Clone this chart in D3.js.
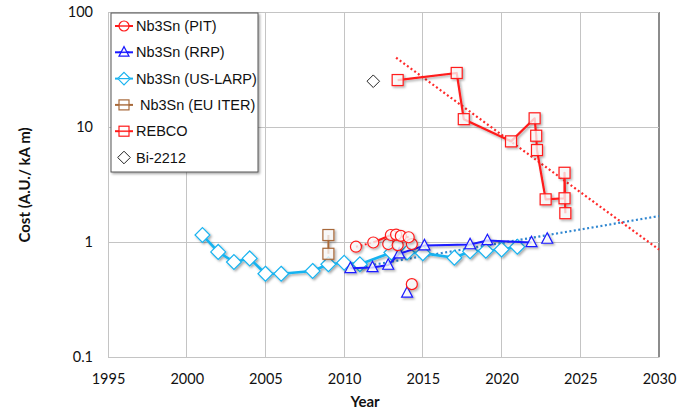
<!DOCTYPE html>
<html>
<head>
<meta charset="utf-8">
<script src="https://cdn.jsdelivr.net/npm/d3@7"></script>
<style>
  html, body { margin: 0; padding: 0; background: #fff; }
  svg { display: block; }
  .tick text { font-family: Lato, "Liberation Sans", sans-serif; font-size: 14.5px; fill: #111; }
  .title { font-family: Lato, "Liberation Sans", sans-serif; font-size: 15px; font-weight: bold; fill: #111; }
  .legend text { font-family: "Liberation Sans", Arial, sans-serif; font-size: 14.5px; fill: #111; }
</style>
</head>
<body>
<svg id="chart" width="678" height="411"></svg>
<script>
// ---- data: [year, cost (A.U./kA m)] ----
const xTicks = [1995, 2000, 2005, 2010, 2015, 2020, 2025, 2030];
const yTicks = [0.1, 1, 10, 100];
const yTickLabels = ["0.1", "1", "10", "100"];

// Nb3Sn (PIT)
const pitLine = [[2011.85, 0.99], [2012.97, 1.15], [2013.3, 1.16], [2013.6, 1.13], [2014.1, 1.10]];
const pitDotted = [[2010.75, 0.91], [2011.85, 0.99]];
const pitExtra = [[2010.75, 0.91], [2012.8, 0.96], [2013.4, 0.94], [2014.3, 0.96], [2014.3, 0.43]];

// Nb3Sn (RRP)
const rrpLine = [[2010.4, 0.59], [2011.8, 0.60], [2012.8, 0.63], [2013.5, 0.79], [2015.1, 0.93],
                 [2018.0, 0.95], [2019.1, 1.03], [2021.9, 0.99]];
const rrpExtra = [[2014.0, 0.36], [2022.9, 1.06]];

// Nb3Sn (US-LARP)
const larp = [[2001, 1.15], [2002, 0.82], [2003, 0.67], [2004, 0.72], [2005, 0.53], [2006, 0.53],
              [2008, 0.56], [2009, 0.64], [2010, 0.66], [2011, 0.64], [2013, 0.81], [2014, 0.81],
              [2015, 0.80], [2017, 0.73], [2018, 0.83], [2019, 0.84], [2020, 0.86], [2021, 0.91]];
const larpTrend = [[2010.5, 0.59], [2030, 1.68]];

// Nb3Sn (EU ITER)
const iter = [[2009, 1.15], [2009, 0.79]];

// REBCO
const rebco = [[2013.4, 25.6], [2017.15, 29.5], [2017.6, 11.7], [2020.6, 7.5], [2022.1, 11.9],
               [2022.2, 8.4], [2022.25, 6.3], [2022.8, 2.35], [2024.0, 2.4], [2024.0, 4.0], [2024.05, 1.78]];
const rebcoTrend = [[2013.3, 40], [2030, 0.86]];

// Bi-2212
const bi2212 = [[2011.85, 25]];

const legendItems = [
  { label: "Nb3Sn (PIT)", color: "#ff1a1a", marker: "circle", line: true },
  { label: "Nb3Sn (RRP)", color: "#1a1aff", marker: "triangle", line: true },
  { label: "Nb3Sn (US-LARP)", color: "#19b3f0", marker: "diamond", line: true },
  { label: "Nb3Sn (EU ITER)", color: "#a8693a", marker: "square", line: true },
  { label: "REBCO", color: "#ff1a1a", marker: "square", line: true },
  { label: "Bi-2212", color: "#222", marker: "diamondSmall", line: false }
];

// ---- layout ----
const svg = d3.select("#chart");
const x = d3.scaleLinear().domain([1995, 2030]).range([108, 659]);
const y = d3.scaleLog().domain([0.1, 100]).range([357, 12]);

const defs = svg.append("defs");
const shadow = defs.append("filter").attr("id", "shadow")
  .attr("x", "-20%").attr("y", "-20%").attr("width", "160%").attr("height", "160%");
shadow.append("feDropShadow").attr("dx", 1.5).attr("dy", 1.5)
  .attr("stdDeviation", 1.2).attr("flood-color", "#000").attr("flood-opacity", 0.35);

// gridlines
const grid = svg.append("g");
grid.selectAll(".vg").data(xTicks).join("line")
  .attr("x1", d => x(d)).attr("x2", d => x(d)).attr("y1", y(100)).attr("y2", y(0.1))
  .attr("stroke", d => d === 2030 ? "#8c8c8c" : "#c4c4c4").attr("stroke-width", d => d === 2030 ? 1.5 : 1)
  .attr("shape-rendering", "crispEdges");
grid.selectAll(".hg").data(yTicks).join("line")
  .attr("x1", x(1995)).attr("x2", x(2030)).attr("y1", d => y(d)).attr("y2", d => y(d))
  .attr("stroke", "#c4c4c4").attr("shape-rendering", "crispEdges");

// axes
const xAxis = svg.append("g").attr("transform", `translate(0,${y(0.1)})`)
  .call(d3.axisBottom(x).tickValues(xTicks).tickFormat(d3.format("d")).tickSize(0).tickPadding(17));
const yAxis = svg.append("g").attr("transform", `translate(${x(1995)},0)`)
  .call(d3.axisLeft(y).tickValues(yTicks).tickFormat((d, i) => yTickLabels[i]).tickSize(0).tickPadding(15));
[xAxis, yAxis].forEach(a => a.select(".domain").attr("stroke", "#c4c4c4"));

svg.append("text").attr("class", "title").attr("x", 365).attr("y", 407)
  .attr("text-anchor", "middle").text("Year");
svg.append("text").attr("class", "title")
  .attr("transform", "translate(30,185) rotate(-90)")
  .attr("text-anchor", "middle").text("Cost (A.U./ kA m)");

// marker drawing; the legend swatch adds the series line across the marker
function drawMarker(g, type, color, size, throughLine) {
  const s = size || 10;
  const fill = "rgba(255,255,255,0.75)";
  if (type === "circle") {
    g.append("circle").attr("r", s / 2).attr("fill", fill).attr("stroke", color).attr("stroke-width", 1.2);
  } else if (type === "triangle") {
    const h = s * 0.95;
    g.append("path").attr("d", `M0,${-h * 0.6}L${s / 2},${h * 0.4}L${-s / 2},${h * 0.4}Z`)
      .attr("fill", fill).attr("stroke", color).attr("stroke-width", 1.2);
  } else if (type === "diamond") {
    const r = s * 0.62;
    g.append("path").attr("d", `M0,${-r}L${r},0L0,${r}L${-r},0Z`)
      .attr("fill", "#fff").attr("stroke", color).attr("stroke-width", 1.2);
  } else if (type === "diamondSmall") {
    const r = s * 0.45;
    g.append("path").attr("d", `M0,${-r}L${r},0L0,${r}L${-r},0Z`)
      .attr("fill", "#fff").attr("stroke", color).attr("stroke-width", 1);
  } else if (type === "square") {
    g.append("rect").attr("x", -s / 2).attr("y", -s / 2).attr("width", s).attr("height", s)
      .attr("fill", fill).attr("stroke", color).attr("stroke-width", 1.2);
  }
  if (throughLine) {
    g.append("line").attr("x1", -s / 2).attr("x2", s / 2).attr("stroke", color).attr("stroke-width", 1.2);
  }
}

const line = d3.line().x(d => x(d[0])).y(d => y(d[1]));
const plot = svg.append("g");

function series(pts, color, width, dash, marker, size, withShadow) {
  const g = plot.append("g");
  if (withShadow) g.attr("filter", "url(#shadow)");
  if (width > 0) {
    g.append("path").datum(pts).attr("d", line).attr("fill", "none")
      .attr("stroke", color).attr("stroke-width", width)
      .attr("stroke-dasharray", dash || null).attr("stroke-linejoin", "round");
  }
  if (marker) {
    g.selectAll(".m").data(pts).join("g")
      .attr("transform", d => `translate(${x(d[0])},${y(d[1])})`)
      .each(function () { drawMarker(d3.select(this), marker, color, size, false); });
  }
}

// trend lines
series(larpTrend, "#2f86d0", 2.2, "2,2.5", null, 0, false);
series(rebcoTrend, "#ff2a2a", 2.2, "2,2.5", null, 0, false);

// US-LARP
series(larp, "#19b3f0", 2.6, null, "diamond", 12, true);
// EU ITER
series(iter, "#a8693a", 2, null, "square", 11, true);
// RRP
series(rrpLine, "#1a1aff", 2, null, "triangle", 11, true);
series(rrpExtra, "#1a1aff", 0, null, "triangle", 11, true);
// PIT
series(pitDotted, "#ff1a1a", 2, "2,2.5", null, 0, true);
series(pitExtra, "#ff1a1a", 0, null, "circle", 11, true);
series(pitLine, "#ff1a1a", 2, null, "circle", 11, true);
// REBCO
series(rebco, "#ff1a1a", 2.2, null, "square", 11, true);
// Bi-2212
series(bi2212, "#222", 0, null, "diamondSmall", 14, false);

// legend
const lg = svg.append("g").attr("class", "legend");
lg.append("rect").attr("x", 111).attr("y", 13).attr("width", 147).attr("height", 159)
  .attr("fill", "#fff").attr("stroke", "#555").attr("stroke-width", 1).attr("filter", "url(#shadow)");
const rows = lg.selectAll(".row").data(legendItems).join("g")
  .attr("transform", (d, i) => `translate(124,${26 + i * 26.3})`);
rows.each(function (d, i) {
  const g = d3.select(this);
  if (d.line) {
    g.append("line").attr("x1", -9).attr("x2", 9).attr("stroke", d.color).attr("stroke-width", 2);
  }
  drawMarker(g, d.marker, d.color, d.marker === "diamondSmall" ? 14 : 10, d.line);
  g.append("text").attr("x", d.label === "Nb3Sn (EU ITER)" ? 16 : 12).attr("y", 5).text(d.label);
});
</script>
</body>
</html>
